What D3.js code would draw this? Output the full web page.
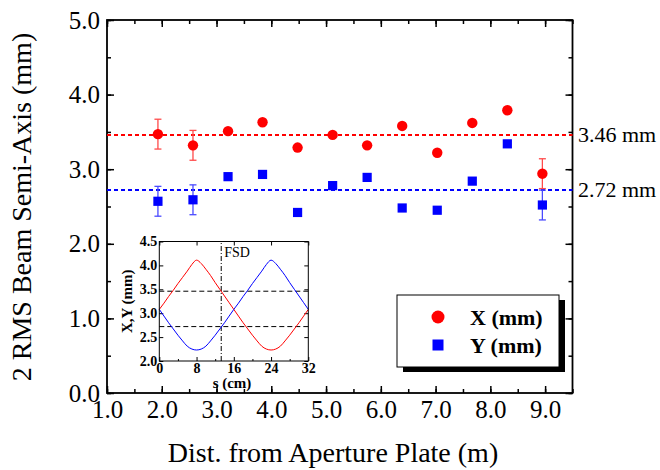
<!DOCTYPE html>
<html>
<head>
<meta charset="utf-8">
<script src="https://cdn.jsdelivr.net/npm/d3@7"></script>
<style>
  body { margin: 0; background: #fff; }
  svg text { font-family: "Liberation Serif", "Times New Roman", serif; }
</style>
</head>
<body>
<div id="chart"></div>
<script>
// measured beam semi-axes along the line
var distM = [1.93, 2.57, 3.21, 3.84, 4.48, 5.12, 5.75, 6.39, 7.03, 7.67, 8.31, 8.95];
var xSemi = [3.47, 3.32, 3.51, 3.63, 3.29, 3.46, 3.32, 3.58, 3.22, 3.62, 3.79, 2.94];
var ySemi = [2.57, 2.59, 2.90, 2.93, 2.42, 2.78, 2.89, 2.48, 2.45, 2.84, 3.34, 2.52];
var xErr  = [0.20, 0.20, 0, 0, 0, 0, 0, 0, 0, 0, 0, 0.20];
var yErr  = [0.20, 0.20, 0, 0, 0, 0, 0, 0, 0, 0, 0, 0.20];
var meanX = 3.46, meanY = 2.72;
var meanLabels = ["3.46 mm", "2.72 mm"];
var xTicks = [1, 2, 3, 4, 5, 6, 7, 8, 9];
var yTicks = [0, 1, 2, 3, 4, 5];

// inset: envelope over one period
var sCm  = [0, 1, 2, 3, 4, 5, 6, 7, 8, 9, 10, 11, 12, 13, 14, 15, 16,
            17, 18, 19, 20, 21, 22, 23, 24, 25, 26, 27, 28, 29, 30, 31, 32];
var envX = [3.08, 3.21, 3.35, 3.48, 3.62, 3.75, 3.88, 4.02, 4.11, 4.04, 3.92, 3.79, 3.64, 3.50, 3.36, 3.22, 3.08,
            2.94, 2.80, 2.67, 2.54, 2.42, 2.31, 2.25, 2.23, 2.25, 2.31, 2.42, 2.54, 2.67, 2.80, 2.94, 3.08];
var envY = [3.08, 2.94, 2.80, 2.67, 2.54, 2.42, 2.31, 2.25, 2.23, 2.25, 2.31, 2.42, 2.54, 2.67, 2.80, 2.94, 3.08,
            3.21, 3.35, 3.48, 3.62, 3.75, 3.88, 4.02, 4.11, 4.04, 3.92, 3.79, 3.64, 3.50, 3.36, 3.22, 3.08];
var fsdPos = 13.3;
var sTicks = [0, 8, 16, 24, 32];
var envTicks = [2.0, 2.5, 3.0, 3.5, 4.0, 4.5];

var svg = d3.select("#chart").append("svg")
    .attr("width", 660)
    .attr("height", 470);

var x = d3.scaleLinear().domain([1, 9.5]).range([107, 572.5]);
var y = d3.scaleLinear().domain([0, 5]).range([393, 20]);
var fmt = d3.format(".1f");

function half(a, b) {
    var out = [];
    for (var v = a; v <= b + 1e-9; v += 0.5) out.push(v);
    return out;
}

// axes, ticks inward on all four sides
function styleAxis(g, size) {
    g.selectAll(".domain").remove();
    g.selectAll("line").attr("stroke", "#000").attr("stroke-width", 1.5);
    g.selectAll("text").attr("font-size", size).attr("fill", "#000");
}

svg.append("g").attr("transform", "translate(0,393)")
    .call(d3.axisBottom(x).tickValues(half(1, 9.5)).tickSize(-4).tickFormat(""))
    .call(styleAxis, 0);
svg.append("g").attr("transform", "translate(0,393)")
    .call(d3.axisBottom(x).tickValues(xTicks).tickSize(-7).tickPadding(7).tickFormat(fmt))
    .call(styleAxis, 25);
svg.append("g").attr("transform", "translate(0,20)")
    .call(d3.axisTop(x).tickValues(half(1, 9.5)).tickSize(-4).tickFormat(""))
    .call(styleAxis, 0);
svg.append("g").attr("transform", "translate(0,20)")
    .call(d3.axisTop(x).tickValues(xTicks).tickSize(-7).tickFormat(""))
    .call(styleAxis, 0);

svg.append("g").attr("transform", "translate(107,0)")
    .call(d3.axisLeft(y).tickValues(half(0, 5)).tickSize(-4).tickFormat(""))
    .call(styleAxis, 0);
svg.append("g").attr("transform", "translate(107,0)")
    .call(d3.axisLeft(y).tickValues(yTicks).tickSize(-7).tickPadding(7).tickFormat(fmt))
    .call(styleAxis, 25);
svg.append("g").attr("transform", "translate(572.5,0)")
    .call(d3.axisRight(y).tickValues(half(0, 5)).tickSize(-4).tickFormat(""))
    .call(styleAxis, 0);
svg.append("g").attr("transform", "translate(572.5,0)")
    .call(d3.axisRight(y).tickValues(yTicks).tickSize(-7).tickFormat(""))
    .call(styleAxis, 0);

svg.append("rect")
    .attr("x", 107).attr("y", 20)
    .attr("width", 572.5 - 107).attr("height", 393 - 20)
    .attr("fill", "none").attr("stroke", "#000").attr("stroke-width", 1.8);

// mean lines
svg.append("line")
    .attr("x1", x(1)).attr("x2", x(9.5)).attr("y1", y(meanX)).attr("y2", y(meanX))
    .attr("stroke", "#ff0000").attr("stroke-width", 2).attr("stroke-dasharray", "4,3");
svg.append("line")
    .attr("x1", x(1)).attr("x2", x(9.5)).attr("y1", y(meanY)).attr("y2", y(meanY))
    .attr("stroke", "#0000ff").attr("stroke-width", 2).attr("stroke-dasharray", "4,3");

svg.selectAll(".meanlab")
    .data([meanX, meanY])
    .enter().append("text")
    .attr("class", "meanlab")
    .attr("x", 578)
    .attr("y", function(d) { return y(d) + 7; })
    .attr("font-size", 22)
    .text(function(d, i) { return meanLabels[i]; });

// error bars
function errBars(vals, errs, color) {
    var g = svg.append("g");
    distM.forEach(function(d, i) {
        if (!errs[i]) return;
        var lo = y(vals[i] - errs[i]), hi = y(vals[i] + errs[i]), cx = x(d);
        g.append("line").attr("x1", cx).attr("x2", cx).attr("y1", lo).attr("y2", hi);
        g.append("line").attr("x1", cx - 3.5).attr("x2", cx + 3.5).attr("y1", lo).attr("y2", lo);
        g.append("line").attr("x1", cx - 3.5).attr("x2", cx + 3.5).attr("y1", hi).attr("y2", hi);
    });
    g.selectAll("line").attr("stroke", color).attr("stroke-width", 1.3);
}
errBars(xSemi, xErr, "#ff4a4a");
errBars(ySemi, yErr, "#4a4aff");

svg.selectAll(".xpt")
    .data(distM)
    .enter().append("circle")
    .attr("class", "xpt")
    .attr("cx", function(d) { return x(d); })
    .attr("cy", function(d, i) { return y(xSemi[i]); })
    .attr("r", 5.2)
    .attr("fill", "#ff0000");

svg.selectAll(".ypt")
    .data(distM)
    .enter().append("rect")
    .attr("class", "ypt")
    .attr("x", function(d) { return x(d) - 4.6; })
    .attr("y", function(d, i) { return y(ySemi[i]) - 4.6; })
    .attr("width", 9.2).attr("height", 9.2)
    .attr("fill", "#0000ff");

// axis titles
svg.append("text")
    .attr("x", 333).attr("y", 462)
    .attr("text-anchor", "middle")
    .attr("font-size", 28)
    .text("Dist. from Aperture Plate (m)");
svg.append("text")
    .attr("transform", "translate(31,207) rotate(-90)")
    .attr("text-anchor", "middle")
    .attr("font-size", 28)
    .text("2 RMS Beam Semi-Axis (mm)");

// legend with drop shadow
svg.append("rect").attr("x", 403).attr("y", 300).attr("width", 162).attr("height", 72).attr("fill", "#000");
svg.append("rect").attr("x", 397).attr("y", 295).attr("width", 162).attr("height", 72)
    .attr("fill", "#fff").attr("stroke", "#000").attr("stroke-width", 1);
svg.append("circle").attr("cx", 438).attr("cy", 317).attr("r", 6.5).attr("fill", "#ff0000");
svg.append("rect").attr("x", 432.5).attr("y", 339.5).attr("width", 11).attr("height", 11).attr("fill", "#0000ff");
svg.append("text").attr("x", 470).attr("y", 325).attr("font-size", 22).attr("font-weight", "bold").text("X (mm)");
svg.append("text").attr("x", 470).attr("y", 353).attr("font-size", 22).attr("font-weight", "bold").text("Y (mm)");

// inset
var sx = d3.scaleLinear().domain([0, 32]).range([159.3, 308.3]);
var sy = d3.scaleLinear().domain([2, 4.5]).range([361, 241.5]);
var inset = svg.append("g");

inset.append("rect")
    .attr("x", sx(0)).attr("y", sy(4.5))
    .attr("width", sx(32) - sx(0)).attr("height", sy(2) - sy(4.5))
    .attr("fill", "#fff");

function styleInset(g) {
    g.selectAll(".domain").remove();
    g.selectAll("line").attr("stroke", "#000").attr("stroke-width", 1);
    g.selectAll("text").attr("font-size", 14).attr("font-weight", "bold").attr("fill", "#000");
}
inset.append("g").attr("transform", "translate(0," + sy(2) + ")")
    .call(d3.axisBottom(sx).tickValues(sTicks).tickSize(-4).tickPadding(2).tickFormat(d3.format("d")))
    .call(styleInset);
inset.append("g").attr("transform", "translate(0," + sy(2) + ")")
    .call(d3.axisBottom(sx).tickValues([4, 12, 20, 28]).tickSize(-2).tickFormat(""))
    .call(styleInset);
inset.append("g").attr("transform", "translate(0," + sy(4.5) + ")")
    .call(d3.axisTop(sx).tickValues(sTicks).tickSize(-4).tickFormat(""))
    .call(styleInset);
inset.append("g").attr("transform", "translate(" + sx(0) + ",0)")
    .call(d3.axisLeft(sy).tickValues(envTicks).tickSize(-4).tickPadding(2).tickFormat(fmt))
    .call(styleInset);
inset.append("g").attr("transform", "translate(" + sx(32) + ",0)")
    .call(d3.axisRight(sy).tickValues(envTicks).tickSize(-4).tickFormat(""))
    .call(styleInset);

inset.selectAll(".ref")
    .data([meanX, meanY])
    .enter().append("line")
    .attr("x1", sx(0)).attr("x2", sx(32))
    .attr("y1", function(d) { return sy(d); })
    .attr("y2", function(d) { return sy(d); })
    .attr("stroke", "#000").attr("stroke-width", 1).attr("stroke-dasharray", "5,3");

inset.append("line")
    .attr("x1", sx(fsdPos)).attr("x2", sx(fsdPos))
    .attr("y1", sy(2)).attr("y2", sy(4.5))
    .attr("stroke", "#000").attr("stroke-width", 1).attr("stroke-dasharray", "5,2,1,2");
inset.append("text")
    .attr("x", sx(fsdPos) + 3).attr("y", sy(4.5) + 15)
    .attr("font-size", 14)
    .text("FSD");

var env = d3.line()
    .x(function(d, i) { return sx(sCm[i]); })
    .y(function(d) { return sy(d); })
    .curve(d3.curveMonotoneX);
inset.append("path").attr("d", env(envX)).attr("fill", "none").attr("stroke", "#ff0000").attr("stroke-width", 1);
inset.append("path").attr("d", env(envY)).attr("fill", "none").attr("stroke", "#0000ff").attr("stroke-width", 1);

inset.append("rect")
    .attr("x", sx(0)).attr("y", sy(4.5))
    .attr("width", sx(32) - sx(0)).attr("height", sy(2) - sy(4.5))
    .attr("fill", "none").attr("stroke", "#000").attr("stroke-width", 1);

inset.append("text")
    .attr("x", 232).attr("y", 388)
    .attr("text-anchor", "middle")
    .attr("font-size", 15).attr("font-weight", "bold")
    .text("s (cm)");
inset.append("text")
    .attr("transform", "translate(132," + (sy(2) + sy(4.5)) / 2 + ") rotate(-90)")
    .attr("text-anchor", "middle")
    .attr("font-size", 15).attr("font-weight", "bold")
    .text("X,Y (mm)");
</script>
</body>
</html>
